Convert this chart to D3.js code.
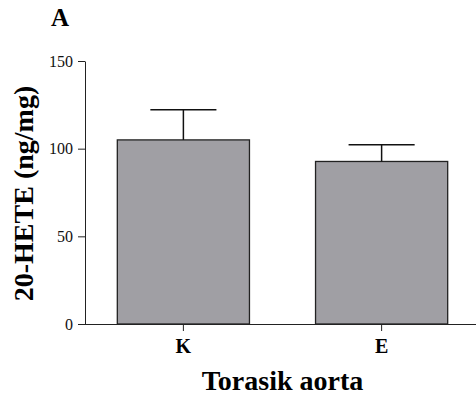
<!DOCTYPE html>
<html>
<head>
<meta charset="utf-8">
<script src="https://cdn.jsdelivr.net/npm/d3@7"></script>
<style>
  body { margin: 0; background: #fff; }
  svg { display: block; font-family: "Liberation Serif", "Times New Roman", serif; }
</style>
</head>
<body>
<div class="chart"></div>
<script>
const categories = ['K', 'E'];
const means = [105, 92.7];
const errors = [17.2, 9.6];
const yTicks = [0, 50, 100, 150];

const serif = '"Liberation Serif", "Times New Roman", serif';

const svg = d3.select('.chart')
  .append('svg')
    .attr('width', 476)
    .attr('height', 403);

//scales
const x = d3.scaleBand()
  .domain(categories)
  .range([85, 480])
  .paddingInner(1 / 3)
  .paddingOuter(0.163);

const y = d3.scaleLinear()
  .domain([0, 150])
  .range([324, 61]);

//bars
svg.append('g')
  .selectAll('rect')
  .data(categories)
  .enter().append('rect')
    .attr('x', d => x(d))
    .attr('y', (d, i) => y(means[i]))
    .attr('width', x.bandwidth())
    .attr('height', (d, i) => y(0) - y(means[i]))
    .attr('fill', '#a09fa4')
    .attr('stroke', '#222')
    .attr('stroke-width', 1.3);

//error bars (upper only)
const err = svg.append('g')
  .selectAll('g')
  .data(categories)
  .enter().append('g')
    .attr('stroke', '#111')
    .attr('stroke-width', 1.5);
err.append('line')
  .attr('x1', d => x(d) + x.bandwidth() / 2)
  .attr('x2', d => x(d) + x.bandwidth() / 2)
  .attr('y1', (d, i) => y(means[i]))
  .attr('y2', (d, i) => y(means[i] + errors[i]));
err.append('line')
  .attr('x1', d => x(d) + x.bandwidth() / 4)
  .attr('x2', d => x(d) + x.bandwidth() * 3 / 4)
  .attr('y1', (d, i) => y(means[i] + errors[i]))
  .attr('y2', (d, i) => y(means[i] + errors[i]));

//y axis
const yAxis = svg.append('g')
  .attr('transform', 'translate(85,0)')
  .call(d3.axisLeft(y).tickValues(yTicks).tickSize(7).tickPadding(5).tickSizeOuter(0))
  .attr('font-family', serif)
  .attr('font-size', 16);
yAxis.selectAll('line, path').attr('stroke', '#222');
yAxis.selectAll('.tick text').attr('fill', '#111');

//x axis
const xAxis = svg.append('g')
  .attr('transform', 'translate(0,324)')
  .call(d3.axisBottom(x).tickSize(7).tickPadding(8).tickSizeOuter(0))
  .attr('font-family', serif)
  .attr('font-size', 20)
  .attr('font-weight', 'bold');
xAxis.select('.domain').attr('d', 'M85,0.5H476');
xAxis.selectAll('line, path').attr('stroke', '#222');
xAxis.selectAll('.tick text').attr('fill', '#000');

//labels
svg.append('text')
  .attr('x', 51)
  .attr('y', 26)
  .style('font-size', '25px')
  .style('font-weight', 'bold')
  .text('A');

svg.append('text')
  .attr('transform', 'translate(33,193.5) rotate(-90)')
  .attr('text-anchor', 'middle')
  .style('font-size', '28px')
  .style('font-weight', 'bold')
  .text('20-HETE (ng/mg)');

svg.append('text')
  .attr('x', 282.5)
  .attr('y', 390)
  .attr('text-anchor', 'middle')
  .style('font-size', '28px')
  .style('font-weight', 'bold')
  .text('Torasik aorta');
</script>
</body>
</html>
